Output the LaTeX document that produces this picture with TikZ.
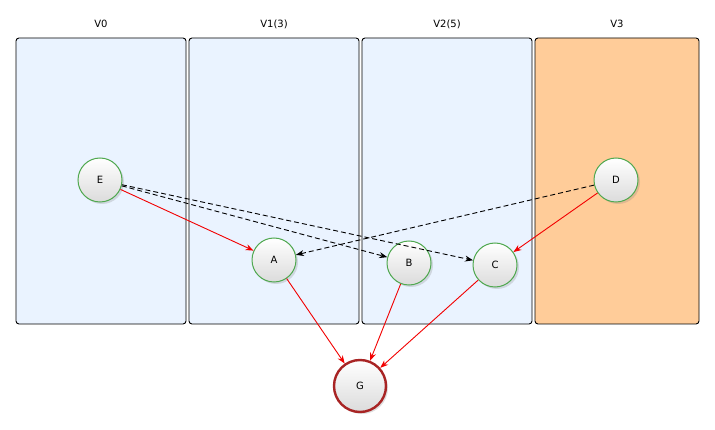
\documentclass[tikz,border=0pt]{standalone}
\usepackage{fontspec}
\setmainfont{DejaVu Sans}
\usepackage{tikz}
\usetikzlibrary{arrows.meta,shadows,positioning}
\definecolor{lanefill}{HTML}{EAF3FF}
\definecolor{lanehot}{HTML}{FFCC99}
\definecolor{nodegreen}{HTML}{4FA84F}
\definecolor{goalred}{HTML}{A82424}
\colorlet{edgered}{red!95!black}

\begin{document}
\begin{tikzpicture}[x=1pt,y=-1pt,>={Stealth[length=8pt,width=6pt]},font=\fontsize{10}{12}\selectfont,
  lane/.style={draw=black,rounded corners=3pt,line width=0.9pt},
  vtx/.style={circle,draw=nodegreen,line width=1pt,minimum size=44pt,inner sep=0pt,
    top color=white,bottom color=gray!28,drop shadow={opacity=0.25,shadow xshift=2pt,shadow yshift=-2pt}},
  goal/.style={vtx,draw=goalred,line width=2.4pt,minimum size=52pt},
  hard/.style={->,edgered,line width=0.9pt},
  soft/.style={->,black,dash pattern=on 5pt off 3pt,line width=0.9pt}]
\useasboundingbox (0,0) rectangle (715,430);
% the four lanes
\foreach \xa/\xb/\lab/\col in {16/186/V0/lanefill, 189/359/V1(3)/lanefill, 362/532/V2(5)/lanefill, 535/699/V3/lanehot}{
  \draw[lane,fill=\col] (\xa,38) rectangle (\xb,324);
  \node (lab\lab) at ({(\xa+\xb)/2},24) {\lab};
}
% vertices
\node[vtx] (E) at (100,180) {E};
\node[vtx] (A) at (274,260) {A};
\node[vtx] (B) at (409,263) {B};
\node[vtx] (C) at (495,265) {C};
\node[vtx] (D) at (616,180) {D};
\node[goal] (G) at (360,386) {G};
% dependencies
\draw[soft] (E) -- (B);
\draw[soft] (E) -- (C);
\draw[soft] (D) -- (A);
\draw[hard] (E) -- (A);
\draw[hard] (D) -- (C);
\draw[hard] (A) -- (G);
\draw[hard] (B) -- (G);
\draw[hard] (C) -- (G);
\end{tikzpicture}
\end{document}
